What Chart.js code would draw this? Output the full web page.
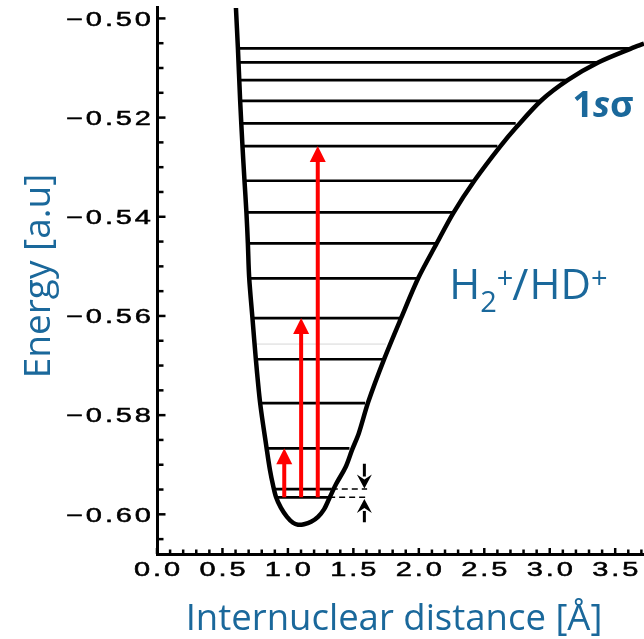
<!DOCTYPE html>
<html>
<head>
<meta charset="utf-8">
<script src="https://cdn.jsdelivr.net/npm/chart.js@4.4.1/dist/chart.umd.min.js"></script>
<style>
    html, body { margin: 0; padding: 0; background: #fff; }
    canvas { display: block; }
</style>
</head>
<body>
<canvas id="js-potentialChart" width="644" height="639"></canvas>
<script>
// 1s-sigma potential curve: internuclear distance [A] vs energy [a.u]
const curveR = [0.603, 0.618, 0.635, 0.653, 0.668, 0.683, 0.694, 0.704, 0.729, 0.755, 0.788, 0.838, 0.863, 0.886, 0.909, 0.947,
                0.993, 1.039, 1.077, 1.123, 1.177, 1.230, 1.276, 1.314, 1.368, 1.442, 1.490, 1.541, 1.614, 1.735, 1.865, 1.995,
                2.136, 2.262, 2.428, 2.619, 2.746, 2.937, 3.140, 3.370, 3.620, 3.720];
const curveE = [-0.4979, -0.5060, -0.5165, -0.5258, -0.5326, -0.5391, -0.5453, -0.5522, -0.5604, -0.5687, -0.5776, -0.5868, -0.5911, -0.5941, -0.5965, -0.5987,
                -0.6005, -0.6017, -0.6021, -0.6020, -0.6015, -0.6005, -0.5990, -0.5969, -0.5939, -0.5904, -0.5870, -0.5837, -0.5773, -0.5687, -0.5604, -0.5524,
                -0.5454, -0.5393, -0.5326, -0.5259, -0.5219, -0.5165, -0.5124, -0.5089, -0.5061, -0.5051];

// vibrational levels (energy, left and right end)
const levelE     = [-0.50605, -0.50887, -0.51244, -0.51661, -0.52117, -0.52575, -0.53274, -0.53911, -0.54536, -0.55242, -0.56042, -0.56873, -0.57756, -0.58669, -0.59490, -0.59657];
const levelLeft  = [0.618, 0.624, 0.631, 0.637, 0.646, 0.653, 0.668, 0.683, 0.694, 0.704, 0.729, 0.755, 0.788, 0.839, 0.895, 0.905];
const levelRight = [3.620, 3.370, 3.140, 2.930, 2.740, 2.600, 2.420, 2.260, 2.130, 1.990, 1.860, 1.730, 1.590, 1.470, 1.335, 1.315];

// thin grey level
const greyLevelE = -0.56567;
const greyLevelLeft = 0.760;
const greyLevelRight = 1.750;

// dashed extensions of the two lowest levels
const dashLevelE = [-0.59490, -0.59657];
const dashStart = [1.335, 1.315];
const dashEnd = 1.605;

// red transitions, all starting from the lowest level
const arrowR    = [0.972, 1.101, 1.228];
const arrowFrom = [-0.59657, -0.59657, -0.59657];
const arrowTo   = [-0.58669, -0.56042, -0.52575];

// small black arrows marking the splitting
const gapArrowR    = [1.584, 1.584];
const gapArrowFrom = [-0.5898, -0.6016];
const gapArrowTo   = [-0.5948, -0.5969];

const yTickLabels = [-0.60, -0.58, -0.56, -0.54, -0.52, -0.50];
const xTickLabels = [0.0, 0.5, 1.0, 1.5, 2.0, 2.5, 3.0, 3.5];

const blue = "#1a689b";

function isMajor(value, list) {
    return list.some((m) => Math.abs(m - value) < 1e-9);
}

// tick numbers of the axes are drawn wide and loosely spaced
function stretchedText(ctx, text, x, y, align) {
    var sx = 1.45;
    ctx.save();
    ctx.font = '20px "Liberation Sans"';
    ctx.letterSpacing = "2px";
    ctx.textAlign = "left";
    ctx.textBaseline = "alphabetic";
    var w = (ctx.measureText(text).width - 2) * sx;
    var left = align === "right" ? x - w : x - w / 2;
    ctx.translate(left, y);
    ctx.scale(sx, 1);
    ctx.fillStyle = "#000";
    ctx.strokeStyle = "#000";
    ctx.lineWidth = 0.5;
    ctx.fillText(text, 0, 0);
    ctx.strokeText(text, 0, 0);
    ctx.restore();
}

function drawArrow(ctx, x, y0, y1, opts) {
    var dir = y1 < y0 ? 1 : -1;   // 1 = pointing up
    ctx.save();
    ctx.strokeStyle = opts.color;
    ctx.fillStyle = opts.color;
    ctx.lineWidth = opts.width;
    ctx.beginPath();
    ctx.moveTo(x, y0);
    ctx.lineTo(x, y1 + dir * (opts.head - 2));
    ctx.stroke();
    ctx.beginPath();
    ctx.moveTo(x, y1);
    ctx.lineTo(x - opts.half, y1 + dir * opts.head);
    ctx.lineTo(x, y1 + dir * (opts.head - opts.notch));
    ctx.lineTo(x + opts.half, y1 + dir * opts.head);
    ctx.closePath();
    ctx.fill();
    ctx.restore();
}

const axisDecor = {
    id: "axisDecor",
    afterDatasetsDraw(chart) {
        const ctx = chart.ctx;
        const xs = chart.scales.x;
        const ys = chart.scales.y;

        for (var i = 0; i < arrowR.length; i++) {
            drawArrow(ctx, xs.getPixelForValue(arrowR[i]), ys.getPixelForValue(arrowFrom[i]), ys.getPixelForValue(arrowTo[i]),
                { color: "#ff0000", width: 4, head: 16, half: 8, notch: 0 });
        }
        for (var j = 0; j < gapArrowR.length; j++) {
            drawArrow(ctx, xs.getPixelForValue(gapArrowR[j]), ys.getPixelForValue(gapArrowFrom[j]), ys.getPixelForValue(gapArrowTo[j]),
                { color: "#000", width: 3, head: 14, half: 7.5, notch: 5 });
        }
    },
    afterDraw(chart) {
        const ctx = chart.ctx;
        const xs = chart.scales.x;
        const ys = chart.scales.y;
        const area = chart.chartArea;

        // inward ticks
        ctx.save();
        ctx.strokeStyle = "#000";
        ctx.lineWidth = 2.5;
        ys.ticks.forEach((t) => {
            var y = ys.getPixelForValue(t.value);
            var len = isMajor(t.value, yTickLabels) ? 8.5 : 6.5;
            ctx.beginPath();
            ctx.moveTo(area.left, y);
            ctx.lineTo(area.left + len, y);
            ctx.stroke();
        });
        xs.ticks.forEach((t) => {
            var x = xs.getPixelForValue(t.value);
            var len = isMajor(t.value, xTickLabels) ? 6 : 4.5;
            ctx.beginPath();
            ctx.moveTo(x, area.bottom);
            ctx.lineTo(x, area.bottom - len);
            ctx.stroke();
        });
        ctx.restore();

        yTickLabels.forEach((v) => {
            stretchedText(ctx, v.toFixed(2).replace("-", "\u2212"), 151, ys.getPixelForValue(v) + 7.3, "right");
        });
        xTickLabels.forEach((v) => {
            stretchedText(ctx, v.toFixed(1), xs.getPixelForValue(v), 576, "center");
        });

        ctx.save();
        ctx.fillStyle = blue;
        ctx.textBaseline = "alphabetic";

        // axis titles
        ctx.font = '36.5px "Open Sans"';
        ctx.textAlign = "center";
        ctx.fillText("Internuclear distance [\u00c5]", 394, 630);
        ctx.save();
        ctx.translate(50, 276);
        ctx.rotate(-Math.PI / 2);
        ctx.font = '37px "Open Sans"';
        ctx.fillText("Energy [a.u]", 0, 0);
        ctx.restore();

        // state label 1s sigma
        ctx.textAlign = "left";
        var x = xs.getPixelForValue(3.173);
        var y = ys.getPixelForValue(-0.51996);
        ctx.font = 'bold 36px "Open Sans"';
        ctx.fillText("1", x, y);
        x += ctx.measureText("1").width;
        ctx.font = 'italic bold 36px "Open Sans"';
        ctx.fillText("s", x, y);
        x += ctx.measureText("s").width;
        ctx.font = 'bold 36px "Open Sans"';
        ctx.fillText("\u03c3", x, y);

        // molecule label H2+/HD+
        x = xs.getPixelForValue(2.232);
        y = ys.getPixelForValue(-0.55649);
        ctx.font = '42px "Open Sans"';
        ctx.fillText("H", x, y);
        x += ctx.measureText("H").width;
        ctx.font = '29px "Open Sans"';
        ctx.fillText("2", x, y + 13.5);
        x += ctx.measureText("2").width;
        ctx.fillText("+", x, y - 10.5);
        x += ctx.measureText("+").width - 1;
        ctx.font = '44px "Open Sans"';
        ctx.fillText("/", x, y + 1);
        x += ctx.measureText("/").width + 1;
        ctx.font = '42px "Open Sans"';
        ctx.fillText("HD", x, y);
        x += ctx.measureText("HD").width;
        ctx.font = '29px "Open Sans"';
        ctx.fillText("+", x, y - 10.5);
        ctx.restore();
    }
};

var datasets = [];

datasets.push({
    data: curveR.map((r, i) => ({ x: r, y: curveE[i] })),
    showLine: true,
    borderColor: "#000",
    borderWidth: 4.5,
    borderJoinStyle: "round",
    tension: 0.3
});

for (var i = 0; i < levelE.length; i++) {
    datasets.push({
        data: [{ x: levelLeft[i], y: levelE[i] }, { x: levelRight[i], y: levelE[i] }],
        showLine: true,
        borderColor: "#000",
        borderWidth: 2.7
    });
}

datasets.push({
    data: [{ x: greyLevelLeft, y: greyLevelE }, { x: greyLevelRight, y: greyLevelE }],
    showLine: true,
    borderColor: "#d6d6d6",
    borderWidth: 1
});

for (var k = 0; k < dashLevelE.length; k++) {
    datasets.push({
        data: [{ x: dashStart[k], y: dashLevelE[k] }, { x: dashEnd, y: dashLevelE[k] }],
        showLine: true,
        borderColor: "#000",
        borderWidth: 1.6,
        borderDash: [6, 4]
    });
}

const ctx = document.getElementById("js-potentialChart");
var potentialChart = new Chart(ctx, {
    type: "scatter",
    data: { datasets: datasets },
    options: {
        responsive: false,
        animation: false,
        layout: { padding: { top: 7, right: 0, bottom: 0, left: 0 } },
        elements: { point: { radius: 0, hoverRadius: 0 } },
        plugins: {
            legend: { display: false },
            tooltip: { enabled: false }
        },
        scales: {
            x: {
                type: "linear",
                min: 0,
                max: 3.72,
                grid: { display: false },
                border: { display: true, color: "#000", width: 3 },
                ticks: { display: false, stepSize: 0.1, includeBounds: false },
                afterFit: (scale) => { scale.height = 85; }
            },
            y: {
                type: "linear",
                min: -0.608,
                max: -0.4977,
                grid: { display: false },
                border: { display: true, color: "#000", width: 3 },
                ticks: { display: false, stepSize: 0.005, includeBounds: false },
                afterFit: (scale) => { scale.width = 157; }
            }
        }
    },
    plugins: [axisDecor]
});
</script>
</body>
</html>
